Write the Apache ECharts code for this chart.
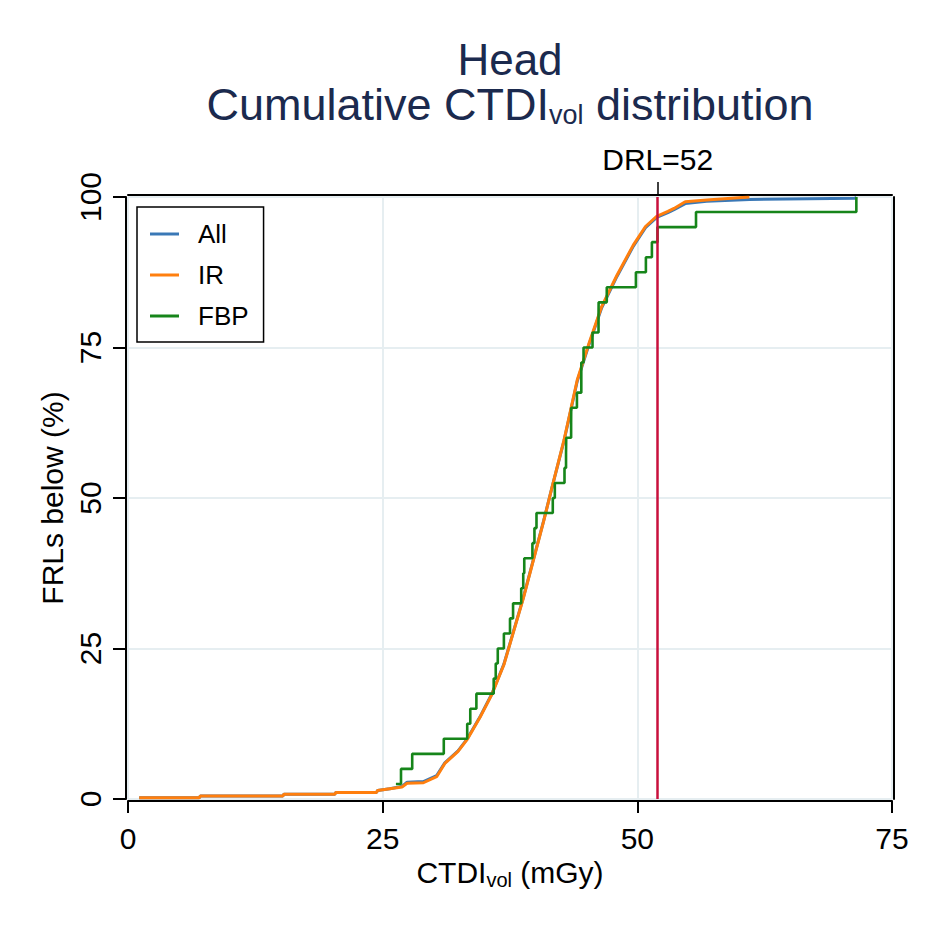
<!DOCTYPE html>
<html>
<head>
<meta charset="utf-8">
<title>Head - Cumulative CTDIvol distribution</title>
<script src="https://cdn.jsdelivr.net/npm/echarts@6/dist/echarts.min.js"></script>
<style>
  html, body { margin: 0; padding: 0; background: #fff; }
  #chart { width: 927px; height: 927px; }
</style>
</head>
<body>
<div id="chart"></div>
<script>
// values
var drlValue = 52;
var xTicks = [0, 25, 50, 75];
var yTicks = [0, 25, 50, 75, 100];

// All FRLs (blue)
var allX = [1.1, 7.0, 7.1, 15.2, 15.3, 20.3, 20.4, 24.4, 24.5, 25.7, 26.9, 27.4, 29.0, 30.3, 31.1, 32.4, 33.3, 34.6, 35.7, 36.9, 37.8, 38.8, 39.8, 40.8, 41.6, 42.8, 44.1, 45.2, 46.5, 48.0, 49.6, 50.8, 51.9, 53.0, 53.6, 54.7, 56.8, 61.0, 71.4, 71.5];
var allY = [0.2, 0.2, 0.5, 0.5, 0.8, 0.8, 1.1, 1.1, 1.4, 1.7, 2.1, 2.8, 2.9, 3.9, 6.0, 8.0, 10.0, 13.8, 17.4, 22.4, 27.6, 33.4, 39.8, 46.2, 51.6, 59.5, 69.4, 75.2, 81.6, 86.8, 91.8, 94.9, 96.6, 97.4, 97.9, 98.9, 99.3, 99.6, 99.8, 100];

// IR (orange)
var irX = [1.1, 7.0, 7.1, 15.2, 15.3, 20.3, 20.4, 24.4, 24.5, 25.7, 26.9, 27.4, 29.0, 30.3, 31.1, 32.4, 33.3, 34.6, 35.7, 36.9, 37.8, 38.8, 39.8, 40.8, 41.6, 42.8, 44.1, 45.2, 46.5, 48.0, 49.6, 50.8, 51.9, 53.0, 53.6, 54.7, 56.8, 61.0];
var irY = [0.2, 0.2, 0.5, 0.5, 0.8, 0.8, 1.1, 1.1, 1.4, 1.7, 2.0, 2.6, 2.7, 3.7, 5.9, 7.9, 9.9, 13.7, 17.3, 22.3, 27.5, 33.3, 39.7, 46.1, 51.6, 59.6, 69.6, 75.4, 81.8, 87.0, 92.0, 95.1, 96.8, 97.6, 98.1, 99.2, 99.5, 100];

// FBP (green), one step per examination
var fbpX = [26.3, 26.8, 27.9, 31.0, 33.3, 33.6, 34.2, 35.9, 36.1, 36.3, 36.9, 37.5, 37.8, 38.6, 38.8, 38.9, 39.7, 39.9, 40.1, 41.7, 41.9, 42.85, 43.0, 43.02, 43.5, 43.51, 44.07, 44.5, 44.5, 44.72, 45.6, 46.19, 46.2, 47.0, 49.86, 50.84, 51.43, 51.98, 55.76, 71.5];
var fbpY = [2.5, 5, 7.5, 10, 12.5, 15, 17.5, 20, 22.5, 25, 27.5, 30, 32.5, 35, 37.5, 40, 42.5, 45, 47.5, 50, 52.5, 55, 57.5, 60, 62.5, 65, 67.5, 70, 72.5, 75, 77.5, 80, 82.5, 85, 87.5, 90, 92.5, 95, 97.5, 100];

var seriesNames = ['All', 'IR', 'FBP'];
var seriesColors = ['#3a78b6', '#ff7f0e', '#16851a'];

var FONT = "'Liberation Sans', Arial, sans-serif";

zip = (xs, ys) => xs.map((x, i) => [x, ys[i]]);

var chart = echarts.init(document.getElementById('chart'), null, { renderer: 'svg' });

var option = {
    backgroundColor: '#fff',
    animation: false,
    textStyle: { fontFamily: FONT },
    graphic: [{
        type: 'text',
        x: 510,
        y: 59.5,
        style: {
            text: 'Head',
            fontSize: 44,
            fontFamily: FONT,
            fill: '#1b2a4e',
            align: 'center',
            verticalAlign: 'middle'
        }
    }, {
        type: 'text',
        x: 510,
        y: 104,
        style: {
            text: '{n|Cumulative CTDI}{s|vol}{n| distribution}',
            fill: '#1b2a4e',
            align: 'center',
            verticalAlign: 'middle',
            rich: {
                n: { fontSize: 45, lineHeight: 48, fontFamily: FONT, color: '#1b2a4e' },
                s: { fontSize: 27, lineHeight: 26, fontFamily: FONT, color: '#1b2a4e', verticalAlign: 'bottom' }
            }
        }
    }],
    legend: {
        orient: 'vertical',
        left: 137,
        top: 207,
        padding: [14, 15, 13, 13],
        itemGap: 15,
        itemWidth: 29,
        itemHeight: 3,
        icon: 'rect',
        borderColor: '#000',
        borderWidth: 1.5,
        borderRadius: 0,
        backgroundColor: '#fff',
        textStyle: { fontSize: 26, color: '#000', fontFamily: FONT, padding: [0, 0, 0, 14] },
        data: seriesNames
    },
    grid: {
        left: 128,
        right: 35,
        top: 197,
        bottom: 128,
        containLabel: false
    },
    xAxis: [{
        type: 'value',
        min: xTicks[0],
        max: xTicks[xTicks.length - 1],
        interval: 25,
        position: 'bottom',
        offset: 2,
        axisLine: { onZero: false, lineStyle: { color: '#000', width: 2 } },
        axisTick: { length: 12, lineStyle: { color: '#000', width: 2 } },
        axisLabel: { fontSize: 30, color: '#000', fontFamily: FONT, margin: 22 },
        splitLine: { show: true, lineStyle: { color: '#e6eef1', width: 2 } },
        name: '{n|CTDI}{s|vol}{n| (mGy)}',
        nameLocation: 'middle',
        nameGap: 53,
        nameTextStyle: {
            rich: {
                n: { fontSize: 30, lineHeight: 34, color: '#000', fontFamily: FONT },
                s: { fontSize: 20, lineHeight: 22, color: '#000', fontFamily: FONT, verticalAlign: 'bottom' }
            }
        }
    }, {
        type: 'value',
        min: xTicks[0],
        max: xTicks[xTicks.length - 1],
        position: 'top',
        offset: 2,
        axisLine: { onZero: false, lineStyle: { color: '#000', width: 2 } },
        axisTick: { show: true, length: 13, customValues: [drlValue], lineStyle: { color: '#000', width: 1.5 } },
        axisLabel: {
            show: true,
            customValues: [drlValue],
            formatter: (v) => 'DRL=' + v,
            fontSize: 30,
            color: '#000',
            fontFamily: FONT,
            margin: 21
        },
        splitLine: { show: false }
    }],
    yAxis: [{
        type: 'value',
        min: yTicks[0],
        max: yTicks[yTicks.length - 1],
        interval: 25,
        position: 'left',
        offset: 2,
        axisLine: { onZero: false, lineStyle: { color: '#000', width: 2 } },
        axisTick: { length: 13, lineStyle: { color: '#000', width: 2 } },
        axisLabel: { fontSize: 30, color: '#000', fontFamily: FONT, rotate: 90, margin: 21 },
        splitLine: { show: true, lineStyle: { color: '#e6eef1', width: 2 } },
        name: 'FRLs below (%)',
        nameLocation: 'middle',
        nameRotate: 90,
        nameGap: 47,
        nameTextStyle: { fontSize: 30, color: '#000', fontFamily: FONT }
    }, {
        type: 'value',
        min: yTicks[0],
        max: yTicks[yTicks.length - 1],
        position: 'right',
        offset: 1.5,
        axisLine: { show: true, onZero: false, lineStyle: { color: '#000', width: 2 } },
        axisTick: { show: false },
        axisLabel: { show: false },
        splitLine: { show: false }
    }],
    series: [{
        name: seriesNames[0],
        type: 'line',
        data: zip(allX, allY),
        showSymbol: false,
        symbol: 'none',
        color: seriesColors[0],
        lineStyle: { color: seriesColors[0], width: 3 },
        markLine: {
            silent: true,
            symbol: ['none', 'none'],
            label: { show: false },
            lineStyle: { color: '#c8103c', width: 2.5, type: 'solid' },
            data: [{ xAxis: drlValue }]
        }
    }, {
        name: seriesNames[1],
        type: 'line',
        data: zip(irX, irY),
        showSymbol: false,
        symbol: 'none',
        color: seriesColors[1],
        lineStyle: { color: seriesColors[1], width: 3 }
    }, {
        name: seriesNames[2],
        type: 'line',
        step: 'end',
        data: zip(fbpX, fbpY),
        showSymbol: false,
        symbol: 'none',
        color: seriesColors[2],
        lineStyle: { color: seriesColors[2], width: 2.6 }
    }]
};

chart.setOption(option);
</script>
</body>
</html>
